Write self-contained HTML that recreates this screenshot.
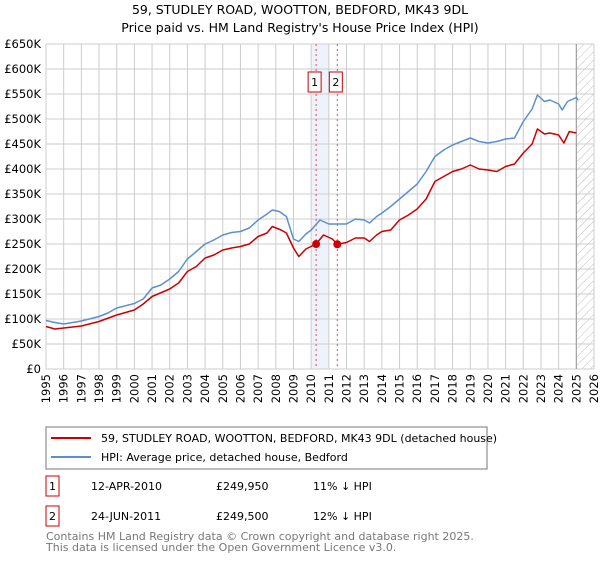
<!DOCTYPE html>
<html><head><meta charset="utf-8"><style>
body{margin:0;background:#fff;font-family:"Liberation Sans","DejaVu Sans",sans-serif;}
svg text{font-family:"DejaVu Sans","Liberation Sans",sans-serif;}
</style></head><body>
<svg id="c" width="600" height="560" xmlns="http://www.w3.org/2000/svg">
<defs><pattern id="hatch" width="6" height="6" patternUnits="userSpaceOnUse" patternTransform="rotate(45)"><line x1="0" y1="0" x2="0" y2="6" stroke="#bbb" stroke-width="1"/></pattern></defs>
<text x="300" y="14" text-anchor="middle" font-size="12.5">59, STUDLEY ROAD, WOOTTON, BEDFORD, MK43 9DL</text>
<text x="300" y="32" text-anchor="middle" font-size="12.5">Price paid vs. HM Land Registry's House Price Index (HPI)</text>
<g id="grid"></g><g id="marks"></g>
<g>
<rect x="46" y="427" width="441" height="42" fill="#fff" stroke="#777"/>
<line x1="51" y1="438" x2="91" y2="438" stroke="#cc0000" stroke-width="2"/>
<text x="101" y="442" font-size="11">59, STUDLEY ROAD, WOOTTON, BEDFORD, MK43 9DL (detached house)</text>
<line x1="51" y1="457" x2="91" y2="457" stroke="#5b8fd0" stroke-width="2"/>
<text x="101" y="461" font-size="11">HPI: Average price, detached house, Bedford</text>
</g>
<g font-size="11">
<rect x="46" y="476" width="13" height="20" fill="#fff" stroke="#cc0000"/><text x="52.5" y="490" text-anchor="middle">1</text>
<text x="91" y="490">12-APR-2010</text>
<text x="216" y="490">£249,950</text>
<text x="313" y="490">11% ↓ HPI</text>
<rect x="46" y="506" width="13" height="20" fill="#fff" stroke="#cc0000"/><text x="52.5" y="520" text-anchor="middle">2</text>
<text x="91" y="520">24-JUN-2011</text>
<text x="216" y="520">£249,500</text>
<text x="313" y="520">12% ↓ HPI</text>
</g>
<text x="46" y="540" font-size="11" fill="#777">Contains HM Land Registry data © Crown copyright and database right 2025.</text>
<text x="46" y="551" font-size="11" fill="#777">This data is licensed under the Open Government Licence v3.0.</text>
</svg>
<script>
const hpiT=[1995,1995.5,1996,1997,1998,1998.5,1999,2000,2000.5,2001,2001.5,2002,2002.5,2003,2003.5,2004,2004.5,2005,2005.5,2006,2006.5,2007,2007.5,2007.8,2008.2,2008.6,2009,2009.3,2009.7,2010,2010.5,2011,2011.5,2012,2012.5,2013,2013.3,2013.7,2014,2014.5,2015,2015.5,2016,2016.5,2017,2017.5,2018,2018.5,2019,2019.5,2020,2020.5,2021,2021.5,2022,2022.5,2022.8,2023.2,2023.5,2024,2024.2,2024.5,2025,2025.1];
const hpiV=[97,93,90,96,105,112,122,131,140,162,168,180,195,220,235,250,258,268,273,275,282,298,310,318,315,305,260,255,270,278,298,290,290,290,300,298,292,305,312,325,340,355,370,395,425,438,448,455,462,455,452,455,460,462,495,520,548,535,538,530,518,535,543,538];
const priceT=[1995,1995.5,1996,1997,1998,1999,2000,2000.5,2001,2002,2002.5,2003,2003.5,2004,2004.5,2005,2005.5,2006,2006.5,2007,2007.5,2007.8,2008.3,2008.6,2009,2009.3,2009.7,2010.28,2010.7,2011.2,2011.48,2012,2012.5,2013,2013.3,2013.7,2014,2014.5,2015,2015.5,2016,2016.5,2017,2017.5,2018,2018.5,2019,2019.5,2020,2020.5,2021,2021.5,2022,2022.5,2022.8,2023.2,2023.5,2024,2024.3,2024.6,2025];
const priceV=[85,80,82,86,95,108,118,130,145,160,172,195,205,222,228,238,242,245,250,265,272,285,278,272,242,225,240,249.95,268,260,249.5,253,262,262,255,268,275,278,298,308,320,340,375,385,395,400,408,400,398,395,405,410,432,450,480,470,472,468,452,475,472];
const saleT=[2010.28,2011.48];
const saleV=[249.95,249.5];
const saleLabels=["1","2"];
const yTicks=[0,50,100,150,200,250,300,350,400,450,500,550,600,650];
const xYears=[];for(let y=1995;y<=2026;y++)xYears.push(y);
const X0=46,X1=594,Y0=369,Y1=44;
const xs=t=>X0+(t-1995)/31*(X1-X0);
const ys=v=>Y0-v/650*(Y0-Y1);
const NS="http://www.w3.org/2000/svg";
function mk(tag,attrs,parent){const e=document.createElementNS(NS,tag);for(const k in attrs)e.setAttribute(k,attrs[k]);parent.appendChild(e);return e;}
const g=document.getElementById('grid'),m=document.getElementById('marks');
mk('rect',{x:xs(2010),y:Y1,width:xs(2011)-xs(2010),height:Y0-Y1,fill:'#eef3fb'},g);
mk('rect',{x:xs(2025),y:Y1,width:X1-xs(2025),height:Y0-Y1,fill:'url(#hatch)'},g);
yTicks.forEach(v=>{
 const l=mk('line',{x1:X0,x2:X1,y1:ys(v),y2:ys(v),stroke:'#ccc'},g);
 
 
 const t=mk('text',{x:X0-5,y:ys(v)+4,'text-anchor':'end','font-size':'11.5'},g);
 t.textContent=v===0?'£0':'£'+v+'K';
 
 
});
xYears.forEach(y=>{
 const l=mk('line',{x1:xs(y),x2:xs(y),y1:Y1,y2:Y0,stroke:'#ccc'},g);
 
 
 const px=xs(y)+4,py=374;
 const t=mk('text',{x:px,y:py,'text-anchor':'end','font-size':'11.5',transform:'rotate(-90 '+px+' '+py+')'},g);
 t.textContent=y;
 
 
});
mk('line',{x1:xs(2025),x2:xs(2025),y1:Y1,y2:Y0,stroke:'#999'},g);
saleT.forEach((t,i)=>{
 const l=mk('line',{x1:xs(t),x2:xs(t),y1:Y1,y2:Y0,stroke:'#e05050','stroke-dasharray':'2,3'},m);
 
 
});
function path(T,V,col,name){
 let d='';T.forEach((t,i)=>{d+=(i?'L':'M')+xs(t).toFixed(1)+','+ys(V[i]).toFixed(1);});
 const p=mk('path',{d:d,fill:'none',stroke:col,'stroke-width':1.5,'stroke-linejoin':'round'},m);
 
 
}
path(hpiT,hpiV,'#5b8fd0','hpi-line');
path(priceT,priceV,'#cc0000','price-line');
saleT.forEach((t,i)=>{
 const c=mk('circle',{cx:xs(t),cy:ys(saleV[i]),r:4,fill:'#cc0000'},m);
 
 
 const r=mk('rect',{x:xs(t)-8,y:72,width:13,height:20,fill:'#fff',stroke:'#cc0000'},m);
 
 
 const tx=mk('text',{x:xs(t)-1.5,y:86,'text-anchor':'middle','font-size':'11'},m);
 tx.textContent=saleLabels[i];
 
 
});
</script>
</body></html>
